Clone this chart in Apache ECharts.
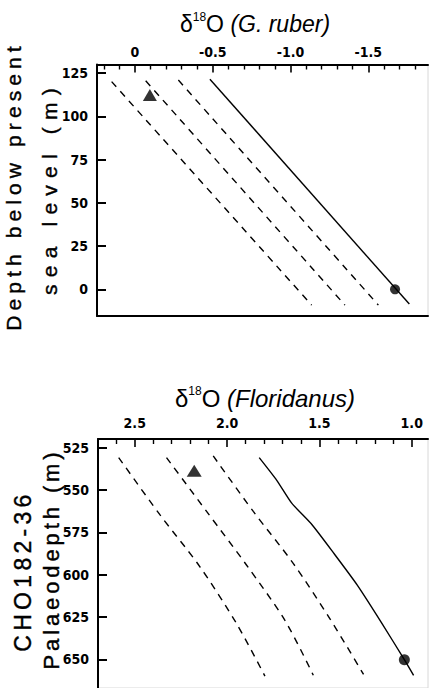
<!DOCTYPE html>
<html><head><meta charset="utf-8">
<script src="https://cdn.jsdelivr.net/npm/echarts@6/dist/echarts.min.js"></script>
<style>html,body{margin:0;padding:0;background:#fff}#c{width:429px;height:688px}</style>
</head><body><div id="c"></div>
<script>
// ---------- data: top panel, G. ruber ----------
const rubberMajorTicks = [0, -0.5, -1.0, -1.5];
const rubberMinorTicks = [0.2, 0.1, -0.1, -0.2, -0.3, -0.4, -0.6, -0.7, -0.8, -0.9, -1.1, -1.2, -1.3, -1.4, -1.6, -1.7, -1.8];
const seaLevelTicks = [0, 25, 50, 75, 100, 125];
const rubberDashA = [[0.150, 120.1], [-1.136, -9.1]];
const rubberDashB = [[-0.069, 120.6], [-1.350, -9.1]];
const rubberDashC = [[-0.279, 121.0], [-1.565, -9.1]];
const rubberSolid = [[-0.482, 121.5], [-1.764, -8.5]];
const rubberTriangle = [[-0.096, 112.4]];
const rubberCircle = [[-1.672, 0]];

// ---------- data: bottom panel, Floridanus ----------
const floMajorTicks = [2.5, 2.0, 1.5, 1.0];
const floMinorTicks = [2.6, 2.4, 2.3, 2.2, 2.1, 1.9, 1.8, 1.7, 1.6, 1.4, 1.3, 1.2, 1.1];
const palaeoDepthTicks = [525, 550, 575, 600, 625, 650];
const floDashA = [[2.587, 530.8], [2.364, 564.5], [2.147, 595.3], [1.948, 629.0], [1.795, 659.9]];
const floDashB = [[2.328, 530.8], [2.111, 562.6], [1.894, 594.4], [1.686, 627.1], [1.533, 659.4]];
const floDashC = [[2.075, 529.8], [1.858, 562.6], [1.641, 593.4], [1.442, 626.2], [1.261, 658.9]];
const floSolid = [[1.826, 530.8], [1.731, 544.2], [1.650, 557.7], [1.541, 570.3], [1.420, 587.6], [1.295, 606.1], [1.165, 628.1], [1.040, 650.2], [0.990, 659.5]];
const floTriangle = [[2.178, 538.5]];
const floCircle = [[1.040, 650.2]];

// ---------- styling ----------
const BLACK = '#000';
const TICK_FONT = '"Liberation Sans Narrow","DejaVu Sans Condensed","Arial Narrow",sans-serif';
const TITLE_FONT = '"Liberation Sans",Arial,sans-serif';
const tickLabel = {color: BLACK, fontFamily: TICK_FONT, fontWeight: 'bold', fontSize: 14};

function fmtTop(v) { return v === 0 ? '0' : v.toFixed(1); }
function fmtBot(v) { return v.toFixed(1); }

function majorX(grid, min, max, ticks, fmt, margin) {
  return {
    gridIndex: grid, type: 'value', position: 'top', inverse: true, min: min, max: max,
    axisLine: {show: true, onZero: false, lineStyle: {color: BLACK, width: 2}},
    axisTick: {show: true, inside: true, length: 8, lineStyle: {color: BLACK, width: 1.6}, customValues: ticks},
    axisLabel: Object.assign({show: true, customValues: ticks, formatter: fmt, margin: margin}, tickLabel),
    splitLine: {show: false}
  };
}
function minorX(grid, min, max, ticks) {
  return {
    gridIndex: grid, type: 'value', position: 'top', inverse: true, min: min, max: max,
    axisLine: {show: false, onZero: false},
    axisTick: {show: true, inside: true, length: 5, lineStyle: {color: BLACK, width: 1.4}, customValues: ticks},
    axisLabel: {show: false}, splitLine: {show: false}
  };
}
function yAx(grid, min, max, inverse, ticks) {
  return {
    gridIndex: grid, type: 'value', position: 'left', inverse: inverse, min: min, max: max,
    axisLine: {show: true, onZero: false, lineStyle: {color: BLACK, width: 2}},
    axisTick: {show: true, inside: true, length: 9, lineStyle: {color: BLACK, width: 2}, customValues: ticks},
    axisLabel: Object.assign({show: true, customValues: ticks, margin: 9}, tickLabel),
    splitLine: {show: false}
  };
}
function lineS(xi, yi, data, dashed) {
  return {
    type: 'line', xAxisIndex: xi, yAxisIndex: yi, data: data, showSymbol: false, symbol: 'none',
    smooth: dashed ? 0.3 : 0.2,
    lineStyle: {color: BLACK, width: 1.4, type: dashed ? [7, 6] : 'solid'}, z: 3
  };
}
function markS(xi, yi, data, sym, size) {
  return {
    type: 'scatter', xAxisIndex: xi, yAxisIndex: yi, data: data, symbol: sym, symbolSize: size,
    itemStyle: {color: BLACK}, z: 4
  };
}
function vTitle(x, y, text, size) {
  return {type: 'text', x: x, y: y, rotation: Math.PI / 2, style: {
    text: text, font: size + 'px "Liberation Sans", Arial, sans-serif', fill: BLACK,
    stroke: BLACK, lineWidth: 0.4,
    align: 'center', verticalAlign: 'middle', textAlign: 'center', textVerticalAlign: 'middle'}};
}
function hTitle(x, y, species, size) {
  return {type: 'text', x: x, y: y, style: {
    text: '{a|δ}{s|18}{a|O }{i|(' + species + ')}', align: 'center', verticalAlign: 'middle',
    textAlign: 'center', textVerticalAlign: 'middle',
    rich: {
      a: {fontFamily: TITLE_FONT, fontSize: size, lineHeight: 26, fill: BLACK, color: BLACK},
      s: {fontFamily: TITLE_FONT, fontSize: 12, lineHeight: 14, verticalAlign: 'top', fill: BLACK, color: BLACK},
      i: {fontFamily: TITLE_FONT, fontSize: size, lineHeight: 26, fontStyle: 'italic', fill: BLACK, color: BLACK}
    }}};
}

const chart = echarts.init(document.getElementById('c'), null, {renderer: 'svg'});
chart.setOption({
  animation: false,
  backgroundColor: '#fff',
  grid: [
    {left: 97, top: 64.5, width: 331, height: 251.5, show: true, borderColor: '#d8d8d8', borderWidth: 1, backgroundColor: 'transparent'},
    {left: 98, top: 439, width: 330, height: 254, show: true, borderColor: '#d8d8d8', borderWidth: 1, backgroundColor: 'transparent'}
  ],
  xAxis: [
    majorX(0, -1.884, 0.244, rubberMajorTicks, fmtTop, 6),
    minorX(0, -1.884, 0.244, rubberMinorTicks),
    {gridIndex: 0, type: 'value', position: 'bottom', min: -1.884, max: 0.244,
     axisLine: {show: true, onZero: false, lineStyle: {color: BLACK, width: 2}},
     axisTick: {show: false}, axisLabel: {show: false}, splitLine: {show: false}},
    majorX(1, 0.912, 2.699, floMajorTicks, fmtBot, 9),
    minorX(1, 0.912, 2.699, floMinorTicks)
  ],
  yAxis: [
    yAx(0, -15.4, 130, false, seaLevelTicks),
    yAx(1, 519.8, 666.9, true, palaeoDepthTicks)
  ],
  graphic: [
    hTitle(255, 24, 'G. ruber', 23),
    hTitle(265, 398, 'Floridanus', 24),
    vTitle(13, 186, 'Depth below present', 21),
    vTitle(49, 188, 'sea level (m)', 21),
    vTitle(23, 571, 'CHO182-36', 23),
    vTitle(51, 559, 'Palaeodepth (m)', 22)
  ],
  series: [
    lineS(0, 0, rubberDashA, true),
    lineS(0, 0, rubberDashB, true),
    lineS(0, 0, rubberDashC, true),
    lineS(0, 0, rubberSolid, false),
    markS(0, 0, rubberTriangle, 'triangle', [14, 12]),
    markS(0, 0, rubberCircle, 'circle', 10),
    lineS(3, 1, floDashA, true),
    lineS(3, 1, floDashB, true),
    lineS(3, 1, floDashC, true),
    lineS(3, 1, floSolid, false),
    markS(3, 1, floTriangle, 'triangle', [15, 12]),
    markS(3, 1, floCircle, 'circle', 11)
  ]
});

// widen letter spacing of the rotated axis titles (as in the original typesetting)
const SPACING = {'Depth below present': 5.1, 'sea level (m)': 7.2, 'CHO182-36': 4.3, 'Palaeodepth (m)': 3.9};
function applySpacing() {
  document.querySelectorAll('#c text').forEach(function (t) {
    const s = SPACING[t.textContent];
    if (s != null) t.setAttribute('letter-spacing', s);
  });
}
applySpacing();
chart.on('finished', applySpacing);
setTimeout(applySpacing, 30);
</script>
</body></html>
